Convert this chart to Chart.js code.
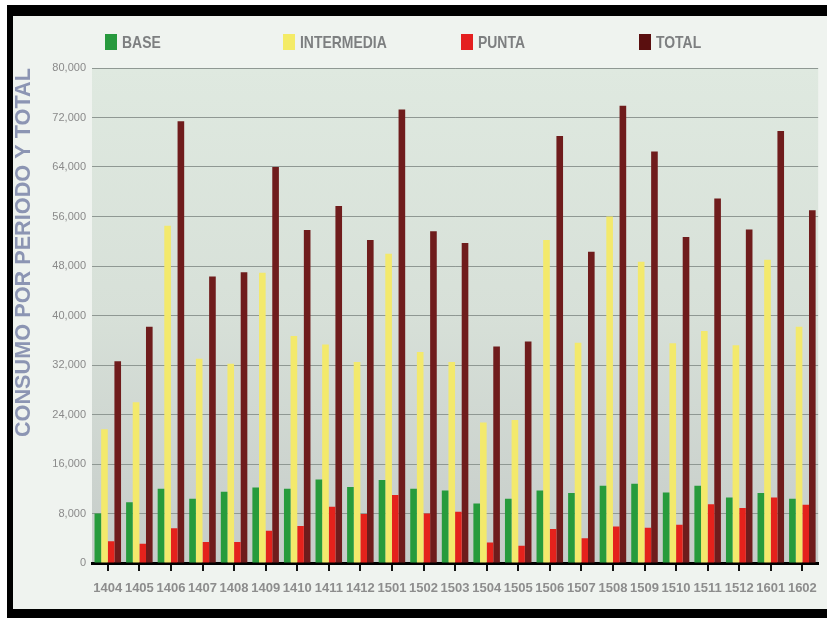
<!DOCTYPE html>
<html><head><meta charset="utf-8">
<script src="https://cdn.jsdelivr.net/npm/chart.js@4.4.1/dist/chart.umd.min.js"></script>
<style>
html,body{margin:0;padding:0;background:#fff;width:827px;height:618px;overflow:hidden}
#frame{position:absolute;left:7px;top:5px;width:820px;height:613px;box-sizing:border-box;border-left:6px solid #000;border-top:11px solid #000;border-bottom:9px solid #000;border-right:0;background:#eff3ef}
#edge{position:absolute;left:812px;top:16px;width:15px;height:593px;background:#eff3ef}
#wrap{position:absolute;left:0;top:0;width:827px;height:618px}
</style></head><body>
<div id="frame"></div>
<div id="edge"></div>
<div id="wrap"><canvas id="c" width="827" height="618"></canvas></div>
<script>
const categories = ['1404','1405','1406','1407','1408','1409','1410','1411','1412','1501','1502','1503','1504','1505','1506','1507','1508','1509','1510','1511','1512','1601','1602'];
const base       = [8000, 9800, 12000, 10400, 11500, 12200, 12000, 13500, 12300, 13400, 12000, 11700, 9600, 10400, 11700, 11300, 12500, 12800, 11400, 12500, 10600, 11300, 10400];
const intermedia = [21600, 26000, 54500, 33000, 32200, 46900, 36700, 35300, 32500, 50000, 34100, 32500, 22700, 23100, 52200, 35600, 56000, 48700, 35500, 37500, 35200, 49000, 38200];
const punta      = [3500, 3100, 5600, 3400, 3400, 5200, 6000, 9100, 7900, 11000, 8000, 8300, 3300, 2800, 5500, 4000, 5900, 5700, 6200, 9500, 8900, 10600, 9400];
const total      = [32600, 38200, 71400, 46300, 47000, 64000, 53800, 57700, 52200, 73300, 53600, 51700, 35000, 35800, 69000, 50300, 73900, 66500, 52700, 58900, 53900, 69800, 57000];
const seriesNames = ['BASE', 'INTERMEDIA', 'PUNTA', 'TOTAL'];
const yTitle = 'CONSUMO POR PERIODO Y TOTAL';
const yMin = 0, yMax = 80000, yStep = 8000;

const seriesColors = ['#279b3c', '#f3e96c', '#e4221c', '#6f1c1c'];
const legendColors = ['#27993d', '#f4eb66', '#e41f1f', '#5a0f0f'];
const SANS = "'Liberation Sans', Arial, sans-serif";

const bgPlugin = {
  id: 'plotBg',
  beforeDraw(chart) {
    const {ctx, chartArea: a} = chart;
    const g = ctx.createLinearGradient(0, a.top, 0, a.bottom);
    g.addColorStop(0, '#dfe9e0');
    g.addColorStop(0.5, '#d7e0d8');
    g.addColorStop(1, '#c6ccc9');
    ctx.save();
    ctx.fillStyle = g;
    ctx.fillRect(a.left, a.top, a.right - a.left, a.bottom - a.top);
    ctx.restore();
  }
};

const legendPlugin = {
  id: 'spacedLegend',
  afterDraw(chart) {
    const {ctx, chartArea: a} = chart;
    chart.data.datasets.forEach((ds, i) => {
      const x = a.left + 13 + i * 178;
      const y = a.top - 34;
      ctx.save();
      ctx.fillStyle = legendColors[i];
      ctx.fillRect(x, y, 12, 16);
      ctx.fillStyle = '#7d7f80';
      ctx.font = "bold 17px " + SANS;
      ctx.textBaseline = 'middle';
      ctx.textAlign = 'left';
      ctx.translate(x + 17, y + 9);
      ctx.scale(0.82, 1);
      ctx.fillText(ds.label, 0, 0);
      ctx.restore();
    });
  }
};

const datasets = [base, intermedia, punta, total].map((d, i) => ({
  label: seriesNames[i],
  data: d,
  backgroundColor: seriesColors[i],
  borderWidth: 0,
  categoryPercentage: 0.84,
  barPercentage: 1.0
}));

new Chart(document.getElementById('c'), {
  type: 'bar',
  data: { labels: categories, datasets },
  plugins: [bgPlugin, legendPlugin],
  options: {
    responsive: false,
    animation: false,
    layout: { padding: { left: 13, top: 68, right: 8, bottom: 15 } },
    plugins: { legend: { display: false }, tooltip: { enabled: false } },
    scales: {
      x: {
        afterFit(s) { s.height = 40; },
        grid: { display: true, drawOnChartArea: false, drawTicks: true, tickLength: 8, color: '#111', lineWidth: 2, offset: false },
        border: { display: true, color: '#000', width: 3 },
        ticks: { autoSkip: false, maxRotation: 0, minRotation: 0, padding: 10, color: '#8d8d8d', font: { family: SANS, size: 13, weight: 'bold' } }
      },
      y: {
        min: yMin, max: yMax,
        afterFit(s) { s.width = 79; },
        grid: { color: '#8f9893', lineWidth: 1, drawTicks: false },
        border: { display: false },
        ticks: { stepSize: yStep, padding: 6, color: '#8a8a8a', font: { family: SANS, size: 11 },
          callback: v => Number(v).toLocaleString('en-US') },
        title: { display: true, text: yTitle, align: 'end', color: '#8c95b3', padding: 0,
          font: { family: SANS, size: 21.7, weight: 'bold', lineHeight: 1 } }
      }
    }
  }
});
</script>
</body></html>
